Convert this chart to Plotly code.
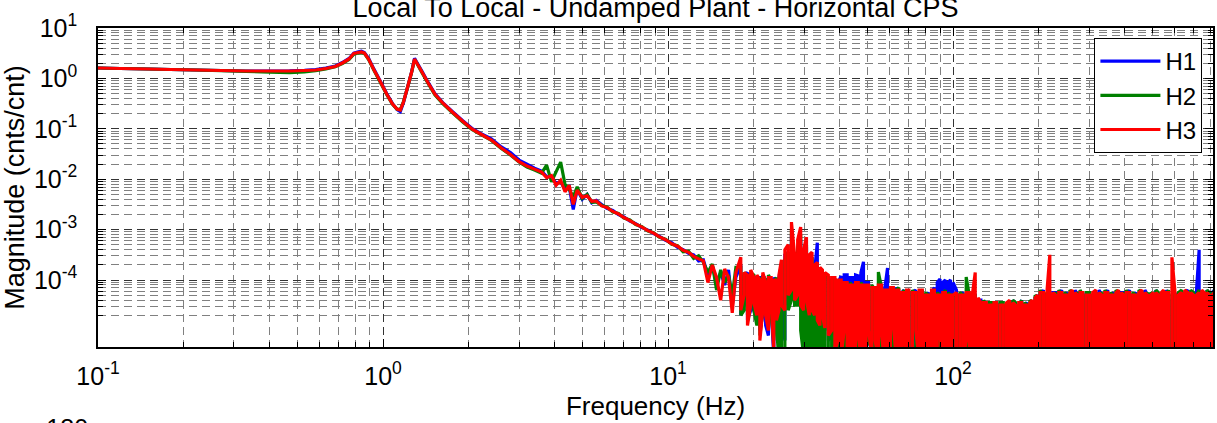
import plotly.graph_objects as go

# ---------------- text ----------------
title_text = "Local To Local - Undamped Plant - Horizontal CPS"
x_title = "Frequency (Hz)"
y_title = "Magnitude (cnts/cnt)"
series_names = ["H1", "H2", "H3"]
series_colors = ["#0000ff", "#008000", "#ff0000"]

x_tick_vals = [0.1, 1, 10, 100]
x_tick_text = ["10<sup>-1</sup>", "10<sup>0</sup>", "10<sup>1</sup>", "10<sup>2</sup>"]
y_tick_vals = [1e-4, 1e-3, 1e-2, 1e-1, 1, 10]
y_tick_text = ["10<sup>-4</sup>", "10<sup>-3</sup>", "10<sup>-2</sup>",
               "10<sup>-1</sup>", "10<sup>0</sup>", "10<sup>1</sup>"]
next_panel_label = "-180"

# ---------------- data: clean part (Hz, log10 magnitude) ----------------
freq_hz = [
    0.10, 0.12, 0.15, 0.18, 0.22, 0.27, 0.33, 0.40, 0.47, 0.53,
    0.58, 0.63, 0.68, 0.72, 0.76, 0.79, 0.82, 0.84, 0.86, 0.89,
    0.93, 0.98, 1.03, 1.08, 1.12, 1.15, 1.18, 1.22, 1.26, 1.29,
    1.32, 1.37, 1.44, 1.52, 1.62, 1.75, 1.90, 2.05, 2.20, 2.40,
    2.60, 2.80, 3.00, 3.20, 3.40,
    3.60, 3.75, 3.90, 4.05, 4.20, 4.35, 4.50, 4.65, 4.80, 5.00,
    5.20, 5.40, 5.60, 5.85, 6.10, 6.40, 6.70, 7.00, 7.35, 7.70,
    8.10, 8.50, 8.90, 9.30, 9.80, 10.3, 10.8, 11.3, 11.8, 12.3,
    12.8, 13.3, 13.8, 14.3, 14.8, 15.3, 15.8, 16.3, 16.8, 17.3,
]

h1_log10 = [
    0.206, 0.196, 0.187, 0.177, 0.167, 0.157, 0.147, 0.147, 0.150, 0.160,
    0.175, 0.205, 0.245, 0.315, 0.395, 0.500, 0.530, 0.540, 0.515, 0.400,
    0.180, -0.060, -0.300, -0.500, -0.620, -0.660, -0.480, -0.170, 0.130, 0.400,
    0.300, 0.140, -0.080, -0.300, -0.480, -0.655, -0.835, -0.990, -1.090, -1.200,
    -1.360, -1.470, -1.620, -1.700, -1.780,
    -1.84, -1.95, -1.96, -2.08, -2.05, -2.20, -2.15, -2.60, -2.20, -2.40,
    -2.30, -2.47, -2.42, -2.50, -2.58, -2.62, -2.70, -2.75, -2.83, -2.88,
    -2.96, -3.01, -3.08, -3.13, -3.21, -3.26, -3.35, -3.40, -3.47, -3.50,
    -3.62, -3.60, -3.90, -3.72, -4.05, -3.85, -4.10, -3.80, -4.50, -3.95,
]
h2_log10 = [
    0.206, 0.196, 0.187, 0.177, 0.167, 0.155, 0.140, 0.125, 0.115, 0.130,
    0.155, 0.190, 0.230, 0.295, 0.375, 0.480, 0.505, 0.515, 0.495, 0.375,
    0.155, -0.085, -0.320, -0.515, -0.610, -0.620, -0.460, -0.175, 0.120, 0.375,
    0.280, 0.115, -0.100, -0.325, -0.500, -0.680, -0.860, -1.010, -1.110, -1.230,
    -1.390, -1.520, -1.660, -1.760, -1.820,
    -1.88, -1.72, -2.05, -1.85, -1.66, -2.10, -2.20, -2.35, -2.15, -2.38,
    -2.30, -2.46, -2.45, -2.52, -2.55, -2.65, -2.68, -2.77, -2.81, -2.90,
    -2.94, -3.03, -3.06, -3.15, -3.19, -3.29, -3.32, -3.44, -3.43, -3.57,
    -3.52, -3.65, -3.85, -3.68, -4.20, -3.80, -4.05, -3.90, -4.30, -3.75,
]
h3_log10 = [
    0.206, 0.196, 0.187, 0.177, 0.167, 0.157, 0.147, 0.147, 0.147, 0.157,
    0.167, 0.196, 0.236, 0.306, 0.385, 0.494, 0.514, 0.524, 0.504, 0.385,
    0.167, -0.071, -0.310, -0.508, -0.607, -0.627, -0.468, -0.170, 0.127, 0.385,
    0.286, 0.127, -0.091, -0.310, -0.488, -0.667, -0.845, -1.004, -1.103, -1.222,
    -1.380, -1.510, -1.650, -1.740, -1.800,
    -1.86, -1.97, -1.93, -2.12, -2.02, -2.25, -2.12, -2.50, -2.22, -2.36,
    -2.33, -2.44, -2.43, -2.53, -2.56, -2.64, -2.69, -2.76, -2.82, -2.89,
    -2.95, -3.02, -3.07, -3.14, -3.20, -3.28, -3.33, -3.41, -3.45, -3.53,
    -3.58, -3.62, -4.05, -3.70, -3.95, -4.40, -3.78, -3.95, -4.65, -3.85,
]

# ---------------- data: noisy part, per frequency bin max / min (log10) ----------------
noise_freq_hz = [
    18.0, 18.5, 19.0, 19.5, 20.0, 20.5, 21.0, 21.5, 22.0, 22.5, 23.0, 23.5, 24.0, 24.5,
    25.0, 25.7, 26.4, 27.1, 27.8, 28.5, 29.2, 29.9, 30.6, 31.3, 32.0, 32.7, 33.4, 34.1, 34.8,
    35.5, 36.5, 37.5, 38.5, 39.5, 40.5, 41.5, 42.5, 43.5, 44.5, 45.5, 46.5, 47.5, 48.5, 49.5,
    50.5, 51.9, 53.3, 54.7, 56.1, 57.5, 58.9, 60.3, 61.7, 63.1, 64.5, 65.9, 67.3, 68.7,
    70, 72, 74, 76, 78, 80, 82, 84, 86, 88, 90, 92, 94, 96, 98,
    100, 102.8, 105.6, 108.4, 111.2, 114, 116.8, 119.6, 122.4, 125.2, 128, 130.8, 133.6, 136.4, 139.2,
    142, 146, 150, 154, 158, 162, 166, 170, 174, 178, 182, 186, 190, 194, 198,
    202, 207.5, 213, 218.5, 224, 229.5, 235, 240.5, 246, 251.5, 257, 262.5, 268, 273.5, 279,
    285, 293, 301, 309, 317, 325, 333, 341, 349, 357, 365, 373, 381, 389, 397,
    405, 416, 427, 438, 449, 460, 471, 482, 493, 504, 515, 526, 537, 548, 559,
    570, 586, 602, 618, 634, 650, 666, 682, 698, 714, 730, 746, 762, 778, 794, 810, 826,
]

h1_noise_max = [
    -3.70, -3.90, -3.85, -3.90, -3.95, -3.95, -3.95, -3.90, -4.00, -4.00, -4.00, -3.95, -4.05, -3.95,
    -3.70, -3.50, -3.45, -3.10, -3.60, -3.40, -3.20, -3.45, -3.35, -3.60, -3.55, -3.80, -3.26, -3.85, -3.90,
    -3.95, -3.95, -4.00, -4.00, -4.05, -3.92, -3.90, -3.90, -3.95, -3.95, -3.90, -3.92, -3.85, -3.64, -4.05,
    -4.05, -4.20, -4.15, -4.15, -4.15, -4.20, -3.76, -4.20, -4.20, -4.15, -4.25, -4.25, -4.20, -4.25,
    -4.25, -4.25, -4.20, -4.25, -4.25, -4.30, -4.25, -4.25, -4.15, -4.05, -3.98, -4.05, -4.00, -4.05, -4.00,
    -4.05, -4.20, -4.30, -4.25, -4.30, -4.30, -4.30, -4.30, -4.40, -4.40, -4.45, -4.50, -4.45, -4.50, -4.45,
    -4.45, -4.45, -4.50, -4.50, -4.45, -4.40, -4.50, -4.50, -4.40, -4.50, -4.45, -4.50, -4.45, -4.35, -4.30,
    -4.30, -4.20, -4.30, -4.30, -4.25, -4.25, -4.30, -4.20, -4.30, -4.25, -4.30, -4.25, -4.20, -4.30, -4.30,
    -4.30, -4.25, -4.30, -4.30, -4.25, -4.20, -4.30, -4.30, -4.20, -4.30, -4.25, -4.30, -4.25, -4.25, -4.25,
    -4.30, -4.20, -4.30, -4.25, -4.30, -4.25, -4.20, -4.30, -4.30, -4.30, -4.20, -4.30, -4.30, -4.25, -4.20,
    -4.30, -4.40, -4.25, -4.30, -4.30, -4.25, -4.20, -4.30, -4.30, -4.25, -3.40, -4.25, -4.30, -4.20, -4.30, -4.25, -4.20,
]
h1_noise_min = [
    -4.70, -4.50, -4.80, -4.60, -4.60, -4.80, -5.00, -4.70, -4.90, -5.10, -4.60, -5.50, -4.70, -4.80,
    -4.60, -5.20, -4.50, -4.30, -4.50, -4.40, -4.60, -4.50, -4.50, -4.80, -5.10, -5.50, -4.90, -5.40, -4.90,
    -5.00, -5.20, -5.10, -5.30, -5.20, -5.40, -5.10, -5.30, -5.50, -5.40, -5.50, -5.20, -5.40, -5.30, -5.50,
    -5.20, -5.40, -5.30, -5.50, -5.20, -5.50, -5.40, -5.50, -5.30, -5.40, -5.50, -5.40, -5.30, -5.60,
    -5.50, -5.40, -5.60, -5.50, -5.40, -5.50, -5.40, -5.50, -5.50, -5.60, -5.40, -5.50, -5.50, -5.50, -5.40,
    -5.50, -5.50, -5.60, -5.50, -5.40, -5.60, -5.50, -5.60, -5.50, -5.60, -5.50, -5.60, -5.50, -5.60, -5.50,
    -5.60, -5.50, -5.60, -5.60, -5.50, -5.60, -5.50, -5.60, -5.50, -5.60, -5.50, -5.60, -5.50, -5.60, -5.50,
    -5.60, -5.50, -5.60, -5.60, -5.50, -5.60, -5.50, -5.60, -5.50, -5.60, -5.50, -5.60, -5.50, -5.60, -5.50,
    -5.60, -5.50, -5.60, -5.60, -5.50, -5.60, -5.50, -5.60, -5.50, -5.60, -5.50, -5.60, -5.50, -5.60, -5.50,
    -5.60, -5.50, -5.60, -5.60, -5.50, -5.60, -5.50, -5.60, -5.50, -5.60, -5.50, -5.60, -5.50, -5.60, -5.50,
    -5.60, -5.50, -5.60, -5.50, -5.60, -5.50, -5.60, -5.50, -5.60, -5.50, -5.60, -5.50, -5.60, -5.50, -5.60, -5.50, -5.60,
]

h2_noise_max = [
    -3.75, -3.85, -3.95, -3.85, -3.90, -4.00, -3.95, -3.90, -4.00, -3.90, -4.00, -4.05, -3.95, -4.00,
    -3.70, -3.60, -3.45, -3.00, -3.70, -3.35, -3.10, -3.55, -3.30, -3.70, -3.55, -3.85, -3.80, -3.85, -3.90,
    -3.95, -3.95, -4.00, -4.00, -4.05, -4.05, -4.10, -4.10, -4.05, -4.15, -4.10, -4.10, -4.05, -4.15, -4.10,
    -4.15, -4.10, -4.20, -3.84, -4.15, -4.20, -4.25, -4.15, -4.20, -4.20, -4.15, -4.30, -4.20, -4.25,
    -4.25, -4.20, -4.30, -4.25, -4.20, -4.25, -4.30, -4.25, -4.20, -4.25, -4.30, -4.30, -4.20, -4.25, -4.30,
    -4.30, -4.30, -4.25, -4.30, -3.94, -4.30, -4.25, -4.30, -4.40, -4.45, -4.40, -4.50, -4.45, -4.45, -4.50,
    -4.50, -4.45, -4.45, -4.50, -4.45, -4.40, -4.45, -4.50, -4.40, -4.45, -4.50, -4.40, -4.45, -4.30, -4.35,
    -4.20, -4.30, -4.25, -4.30, -4.30, -4.25, -4.20, -4.30, -4.25, -4.30, -4.20, -4.25, -4.30, -4.25, -4.20,
    -4.30, -4.25, -4.25, -4.30, -4.25, -4.30, -4.25, -4.20, -4.30, -4.25, -4.30, -4.20, -4.25, -4.30, -4.25,
    -4.20, -4.30, -4.25, -4.30, -4.20, -4.25, -4.30, -4.25, -4.25, -4.30, -4.20, -4.25, -4.30, -4.25, -4.30,
    -4.20, -4.30, -4.30, -4.25, -4.20, -4.25, -4.30, -4.20, -4.25, -4.30, -4.20, -4.25, -4.30, -4.20, -4.25, -4.30, -4.20,
]
h2_noise_min = [
    -4.70, -4.60, -4.70, -4.50, -4.60, -4.90, -5.10, -4.60, -4.60, -4.80, -4.70, -5.20, -4.90, -5.60,
    -5.60, -5.50, -4.60, -4.40, -4.50, -4.50, -5.00, -5.50, -5.30, -5.50, -5.40, -5.50, -5.60, -5.50, -5.40,
    -5.50, -5.40, -5.50, -5.40, -5.50, -5.40, -5.40, -5.50, -5.20, -5.40, -5.50, -5.40, -5.40, -5.50, -5.30,
    -5.20, -5.40, -5.50, -5.40, -5.50, -5.40, -5.50, -5.50, -5.40, -5.40, -5.50, -5.30, -5.50, -5.50,
    -5.50, -5.40, -5.60, -5.50, -5.40, -5.50, -5.40, -5.50, -5.50, -5.60, -5.40, -5.50, -5.50, -5.50, -5.40,
    -5.50, -5.50, -5.60, -5.50, -5.40, -5.60, -5.50, -5.60, -5.50, -5.60, -5.50, -5.60, -5.50, -5.60, -5.50,
    -5.60, -5.50, -5.60, -5.60, -5.50, -5.60, -5.50, -5.60, -5.50, -5.60, -5.50, -5.60, -5.50, -5.60, -5.50,
    -5.60, -5.50, -5.60, -5.60, -5.50, -5.60, -5.50, -5.60, -5.50, -5.60, -5.50, -5.60, -5.50, -5.60, -5.50,
    -5.60, -5.50, -5.60, -5.60, -5.50, -5.60, -5.50, -5.60, -5.50, -5.60, -5.50, -5.60, -5.50, -5.60, -5.50,
    -5.60, -5.50, -5.60, -5.60, -5.50, -5.60, -5.50, -5.60, -5.50, -5.60, -5.50, -5.60, -5.50, -5.60, -5.50,
    -5.60, -5.50, -5.60, -5.50, -5.60, -5.50, -5.60, -5.50, -5.60, -5.50, -5.60, -5.50, -5.60, -5.50, -5.60, -5.50, -5.60,
]

h3_noise_max = [
    -3.55, -3.85, -3.90, -3.80, -3.95, -3.90, -4.00, -3.85, -4.05, -3.95, -3.95, -4.00, -4.00, -3.90,
    -3.60, -3.40, -3.30, -2.85, -3.50, -3.20, -2.95, -3.40, -3.15, -3.50, -3.45, -3.70, -3.65, -3.75, -3.80,
    -3.85, -3.90, -3.95, -3.95, -4.00, -4.00, -4.05, -4.05, -4.10, -4.10, -4.05, -4.05, -4.10, -4.10, -4.10,
    -4.10, -4.15, -4.15, -4.10, -4.10, -4.20, -4.20, -4.15, -4.15, -4.20, -4.20, -4.25, -4.25, -4.20,
    -4.20, -4.25, -4.25, -4.20, -4.20, -4.30, -4.30, -4.20, -4.20, -4.30, -4.30, -4.25, -4.25, -4.30, -4.30,
    -4.30, -4.25, -4.30, -4.30, -4.25, -4.25, -4.30, -3.85, -4.35, -4.45, -4.45, -4.45, -4.50, -4.50, -4.45,
    -4.45, -4.50, -4.50, -4.45, -4.40, -4.45, -4.50, -4.45, -4.45, -4.50, -4.50, -4.45, -4.40, -4.35, -4.30,
    -4.25, -4.25, -4.30, -3.50, -4.25, -4.30, -4.25, -4.25, -4.30, -4.30, -4.25, -4.20, -4.25, -4.30, -4.25,
    -4.25, -4.30, -4.30, -4.25, -4.20, -4.25, -4.30, -4.25, -4.25, -4.30, -4.30, -4.25, -4.20, -4.25, -4.30,
    -4.25, -4.25, -4.30, -4.30, -4.25, -4.20, -4.25, -4.30, -4.30, -4.25, -4.25, -4.30, -4.25, -4.20, -4.25,
    -4.25, -3.55, -4.30, -4.30, -4.25, -4.20, -4.25, -4.25, -4.30, -4.30, -4.25, -4.20, -4.25, -4.25, -4.30, -4.30, -4.25,
]
h3_noise_min = [
    -4.60, -4.30, -4.90, -4.50, -4.45, -4.70, -5.20, -4.60, -4.70, -5.00, -4.50, -5.40, -4.80, -4.60,
    -4.50, -4.60, -4.30, -4.20, -4.40, -4.30, -4.50, -4.60, -4.40, -4.70, -4.60, -4.70, -4.80, -4.90, -4.70,
    -4.95, -5.10, -5.00, -5.40, -5.20, -5.50, -5.00, -5.40, -5.60, -5.30, -5.60, -5.10, -5.50, -5.40, -5.60,
    -5.00, -5.50, -5.20, -5.60, -5.10, -5.60, -5.40, -5.60, -4.90, -5.50, -5.60, -5.50, -5.20, -5.60,
    -5.60, -5.50, -5.00, -5.60, -5.50, -5.60, -5.30, -5.70, -5.60, -5.70, -5.10, -5.60, -5.60, -5.60, -5.50,
    -5.40, -5.60, -5.70, -5.60, -5.20, -5.60, -5.60, -5.60, -5.50, -5.60, -5.80, -5.60, -5.40, -5.60, -5.70,
    -5.60, -5.50, -5.60, -5.80, -5.60, -5.40, -5.60, -5.70, -5.60, -5.50, -5.60, -5.90, -5.60, -5.50, -5.60,
    -5.60, -5.60, -5.80, -5.60, -5.50, -5.60, -5.70, -5.60, -5.40, -5.60, -5.80, -5.60, -5.50, -5.60, -5.70,
    -5.60, -5.60, -5.60, -5.80, -5.60, -5.50, -5.60, -5.90, -5.60, -5.60, -5.60, -5.70, -5.60, -5.50, -5.60,
    -5.80, -5.60, -5.50, -5.60, -5.70, -5.60, -5.60, -5.60, -5.90, -5.60, -5.50, -5.60, -5.70, -5.60, -5.60,
    -5.60, -5.60, -5.70, -5.60, -5.50, -5.60, -5.80, -5.60, -5.60, -5.60, -5.50, -5.60, -5.90, -5.60, -5.60, -5.60, -5.50,
]

clean_parts = [h1_log10, h2_log10, h3_log10]
noise_max_parts = [h1_noise_max, h2_noise_max, h3_noise_max]
noise_min_parts = [h1_noise_min, h2_noise_min, h3_noise_min]

# ---------------- figure ----------------
FONT = "Liberation Sans, Arial, Helvetica, sans-serif"
fig = go.Figure()
for name, color, clean, nmax, nmin in zip(series_names, series_colors,
                                          clean_parts, noise_max_parts, noise_min_parts):
    xs = list(freq_hz)
    ys = [10 ** v for v in clean]
    # each noisy bin is drawn from its max to its min (alternating order)
    for i, f in enumerate(noise_freq_hz):
        if i >= len(nmax) or i >= len(nmin):
            break
        pair = (nmax[i], nmin[i]) if i % 2 == 0 else (nmin[i], nmax[i])
        for v in pair:
            xs.append(f)
            ys.append(10 ** v)
    fig.add_trace(go.Scatter(
        x=xs, y=ys, mode="lines", name=name,
        line=dict(color=color, width=3.2, simplify=False),
    ))

x_minor = [m * 10 ** e for e in (-1, 0, 1, 2) for m in range(2, 10)]
y_minor = [m * 10 ** e for e in (-5, -4, -3, -2, -1, 0) for m in range(2, 10)]

grid_major = "#333333"
grid_minor = "#808080"
dash = "8px,5px"

fig.update_xaxes(
    type="log", range=[-1, 2.912], automargin=False,
    tickmode="array", tickvals=x_tick_vals, ticktext=x_tick_text,
    ticks="inside", ticklen=8, tickcolor="black",
    showline=True, linecolor="black", linewidth=1.5, mirror="ticks",
    showgrid=True, gridcolor=grid_major, gridwidth=1, griddash=dash,
    zeroline=False,
    tickfont=dict(size=25, family=FONT, color="black"),
    ticklabelstandoff=6,
    minor=dict(tickmode="array", tickvals=x_minor, ticks="inside", ticklen=5,
               tickcolor="black", showgrid=True, gridcolor=grid_minor,
               gridwidth=1, griddash=dash),
    title=dict(text=x_title, font=dict(size=26, family=FONT, color="black"), standoff=8),
)
fig.update_yaxes(
    type="log", range=[-5.329, 1], automargin=False,
    tickmode="array", tickvals=y_tick_vals, ticktext=y_tick_text,
    ticks="inside", ticklen=8, tickcolor="black",
    showline=True, linecolor="black", linewidth=1.5, mirror="ticks",
    showgrid=True, gridcolor=grid_major, gridwidth=1, griddash=dash,
    zeroline=False,
    tickfont=dict(size=25, family=FONT, color="black"),
    ticklabelstandoff=14,
    minor=dict(tickmode="array", tickvals=y_minor, ticks="inside", ticklen=5,
               tickcolor="black", showgrid=True, gridcolor=grid_minor,
               gridwidth=1, griddash=dash),
    title=dict(text=y_title, font=dict(size=27, family=FONT, color="black"), standoff=2),
)

fig.update_layout(
    width=1217, height=423,
    margin=dict(l=98, r=4, t=28, b=76, autoexpand=False),
    paper_bgcolor="white", plot_bgcolor="white",
    font=dict(family=FONT, size=25, color="black"),
    title=dict(text=title_text, x=0.5, xref="paper", xanchor="center",
               y=0.9813, yref="container", yanchor="middle",
               font=dict(size=27, family=FONT, color="black")),
    legend=dict(x=0.9905, y=0.9687, xanchor="right", yanchor="top",
                bgcolor="white", bordercolor="black", borderwidth=1,
                font=dict(size=24, family=FONT, color="black"),
                itemwidth=60, tracegroupgap=0),
    showlegend=True,
    annotations=[dict(text=next_panel_label, xref="paper", yref="paper",
                      x=-0.0072, y=-0.203, xanchor="right", yanchor="top",
                      showarrow=False, font=dict(size=25, family=FONT, color="black"))],
)

fig.write_html("out.html",
               config={"displayModeBar": False},
               post_script="document.body.style.margin='0px';document.body.style.padding='0px';")
